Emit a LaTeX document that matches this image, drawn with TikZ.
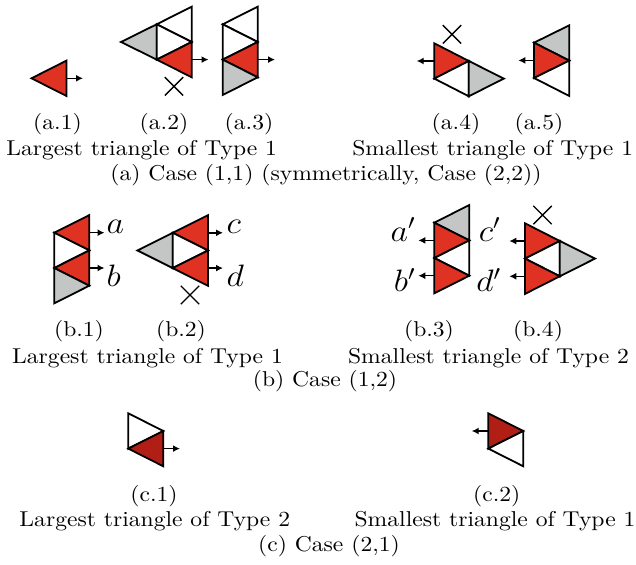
\documentclass[tikz,border=0pt]{standalone}
\usepackage{graphicx}
\usetikzlibrary{arrows.meta,shapes.misc}
\definecolor{tred}{RGB}{224,50,35}
\definecolor{dred}{RGB}{176,30,22}
\definecolor{tgrey}{RGB}{196,198,198}
\newcommand\TX[1]{\scalebox{2.36}[2.15]{#1}}
\newcommand\tri[4]{\filldraw[tri,fill=#1] #2 -- #3 -- #4 -- cycle;}
\begin{document}
\begin{tikzpicture}[x=1pt,y=-1pt,
  tri/.style={draw=black,line width=1.8pt,line join=miter},
  arr/.style={-{Latex[length=7pt,width=7pt]},line width=1.4pt},
  xmark/.style={draw=black,cross out,line width=1.4pt,minimum size=17pt,inner sep=0pt},
  lbl/.style={font=\fontsize{10}{12}\selectfont,inner sep=0pt,anchor=base},
  mlbl/.style={font=\fontsize{10}{12}\selectfont,inner sep=0pt}]
\useasboundingbox (0,0) rectangle (636,564);
% ---------- (a.1)
\tri{tred}{(31.5,78.3)}{(66.5,60.6)}{(66.5,96)}
\coordinate (a1s) at (66.5,78.3); \coordinate (a1e) at (83,78.3);
\draw[arr] (a1s) -- (a1e);
% ---------- (a.2)
\tri{tgrey}{(121,42)}{(156.7,24.3)}{(156.7,59.6)}
\tri{white}{(156.7,24.3)}{(191.7,6.7)}{(191.7,42)}
\tri{white}{(156.7,24.3)}{(191.7,42)}{(156.7,59.6)}
\tri{tred}{(156.7,59.6)}{(191.7,42)}{(191.7,77.3)}
\coordinate (a2s) at (191.7,59.6); \coordinate (a2e) at (208.5,59.6);
\draw[arr] (a2s) -- (a2e);
\node[xmark] (x2) at (174,86.3) {};
% ---------- (a.3)
\tri{white}{(222.7,24.3)}{(257.7,6.7)}{(257.7,42)}
\tri{white}{(222.7,24.3)}{(257.7,42)}{(222.7,59.6)}
\tri{tred}{(222.7,59.6)}{(257.7,42)}{(257.7,77.3)}
\tri{tgrey}{(222.7,59.6)}{(257.7,77.3)}{(222.7,95)}
\coordinate (a3s) at (257.7,59.6); \coordinate (a3e) at (275,59.6);
\draw[arr] (a3s) -- (a3e);
% ---------- (a.4)
\tri{tred}{(434.3,43.3)}{(468.8,61)}{(434.3,78.6)}
\tri{white}{(434.3,78.6)}{(468.8,61)}{(468.8,96.3)}
\tri{tgrey}{(468.8,61)}{(503.8,78.6)}{(468.8,96.3)}
\coordinate (a4s) at (434.3,61); \coordinate (a4e) at (416.7,61);
\draw[arr] (a4s) -- (a4e);
\node[xmark] (x4) at (452,34.3) {};
% ---------- (a.5)
\tri{tgrey}{(534,42.7)}{(569.3,25.3)}{(569.3,60.6)}
\tri{tred}{(534,42.7)}{(569.3,60.6)}{(534,78)}
\tri{white}{(534,78)}{(569.3,60.6)}{(569.3,96)}
\coordinate (a5s) at (534,60.4); \coordinate (a5e) at (518.3,60.4);
\draw[arr] (a5s) -- (a5e);
% ---------- (b.1)
\tri{tred}{(54.3,232.7)}{(89.3,215.1)}{(89.3,250.4)}
\tri{white}{(54.3,232.7)}{(89.3,250.4)}{(54.3,268)}
\tri{tred}{(54.3,268)}{(89.3,250.4)}{(89.3,285.7)}
\tri{tgrey}{(54.3,268)}{(89.3,285.7)}{(54.3,303.3)}
\coordinate (b1s) at (89.3,232.7); \coordinate (b1e) at (104.5,232.7);
\coordinate (b1t) at (89.3,268); \coordinate (b1u) at (104.5,268);
\draw[arr] (b1s) -- (b1e);
\draw[arr] (b1t) -- (b1u);
\node[mlbl,anchor=base west] (ma) at (106.5,233.3) {\TX{\Large$a$}};
\node[mlbl,anchor=base west] (mb) at (106.5,286) {\TX{\Large$b$}};
% ---------- (b.2)
\tri{tgrey}{(137.5,250.5)}{(172.7,232.8)}{(172.7,268.1)}
\tri{tred}{(172.7,232.8)}{(208,215.2)}{(208,250.5)}
\tri{white}{(172.7,232.8)}{(208,250.5)}{(172.7,268.1)}
\tri{tred}{(172.7,268.1)}{(208,250.5)}{(208,285.8)}
\coordinate (b2s) at (208,232.8); \coordinate (b2e) at (223,232.8);
\coordinate (b2t) at (208,268.1); \coordinate (b2u) at (223,268.1);
\draw[arr] (b2s) -- (b2e);
\draw[arr] (b2t) -- (b2u);
\node[mlbl,anchor=base west] (mc) at (226.5,233) {\TX{\Large$c$}};
\node[mlbl,anchor=base west] (md) at (226.5,286) {\TX{\Large$d$}};
\node[xmark] (xb2) at (190,295) {};
% ---------- (b.3)
\tri{tgrey}{(434.3,222.7)}{(469.3,205)}{(469.3,240.4)}
\tri{tred}{(434.3,222.7)}{(469.3,240.4)}{(434.3,258)}
\tri{white}{(434.3,258)}{(469.3,240.4)}{(469.3,275.7)}
\tri{tred}{(434.3,258)}{(469.3,275.7)}{(434.3,293.3)}
\coordinate (b3s) at (434.3,240.4); \coordinate (b3e) at (418.3,240.4);
\coordinate (b3t) at (434.3,275.7); \coordinate (b3u) at (418.3,275.7);
\draw[arr] (b3s) -- (b3e);
\draw[arr] (b3t) -- (b3u);
\node[mlbl,anchor=base east] (map) at (416,241) {\TX{\Large$a'$}};
\node[mlbl,anchor=base east] (mbp) at (416,291.7) {\TX{\Large$b'$}};
% ---------- (b.4)
\tri{tred}{(525,223.3)}{(559.8,241)}{(525,258.6)}
\tri{white}{(525,258.6)}{(559.8,241)}{(559.8,276.3)}
\tri{tred}{(525,258.6)}{(559.8,276.3)}{(525,293.9)}
\tri{tgrey}{(559.8,241)}{(595,258.6)}{(559.8,276.3)}
\coordinate (b4s) at (525,241); \coordinate (b4e) at (509.3,241);
\coordinate (b4t) at (525,276.3); \coordinate (b4u) at (509.3,276.3);
\draw[arr] (b4s) -- (b4e);
\draw[arr] (b4t) -- (b4u);
\node[mlbl,anchor=base east] (mcp) at (501,241) {\TX{\Large$c'$}};
\node[mlbl,anchor=base east] (mdp) at (501.5,291.7) {\TX{\Large$d'$}};
\node[xmark] (xb4) at (542.5,215) {};
% ---------- (c.1)
\tri{white}{(128.3,413.3)}{(163.3,431)}{(128.3,448.6)}
\tri{dred}{(128.3,448.6)}{(163.3,431)}{(163.3,466.3)}
\coordinate (c1s) at (163.3,448.6); \coordinate (c1e) at (180,448.6);
\draw[arr] (c1s) -- (c1e);
% ---------- (c.2)
\tri{dred}{(488.3,413.3)}{(523.3,431)}{(488.3,448.6)}
\tri{white}{(488.3,448.6)}{(523.3,431)}{(523.3,466.3)}
\coordinate (c2s) at (488.3,431); \coordinate (c2e) at (471.7,431);
\draw[arr] (c2s) -- (c2e);
% ---------- labels
\node[lbl] (la1) at (57.5,129.5) {\TX{(a.1)}};
\node[lbl] (la2) at (164,129.5) {\TX{(a.2)}};
\node[lbl] (la3) at (249,129.5) {\TX{(a.3)}};
\node[lbl] (la4) at (456,129.5) {\TX{(a.4)}};
\node[lbl] (la5) at (539,129.5) {\TX{(a.5)}};
\node[lbl] (ta1) at (141.7,155.3) {\TX{Largest triangle of Type 1}};
\node[lbl] (ta2) at (492.7,155.3) {\TX{Smallest triangle of Type 1}};
\node[lbl] (ca) at (326,180.5) {\TX{(a) Case (1,1) (symmetrically, Case (2,2))}};
\node[lbl] (lb1) at (79,336) {\TX{(b.1)}};
\node[lbl] (lb2) at (181,336) {\TX{(b.2)}};
\node[lbl] (lb3) at (429,336) {\TX{(b.3)}};
\node[lbl] (lb4) at (538,336) {\TX{(b.4)}};
\node[lbl] (tb1) at (147.5,363) {\TX{Largest triangle of Type 1}};
\node[lbl] (tb2) at (488.5,363) {\TX{Smallest triangle of Type 2}};
\node[lbl] (cb) at (325,386.5) {\TX{(b) Case (1,2)}};
\node[lbl] (lc1) at (154,501) {\TX{(c.1)}};
\node[lbl] (lc2) at (496.7,501) {\TX{(c.2)}};
\node[lbl] (tc1) at (154.8,526.5) {\TX{Largest triangle of Type 2}};
\node[lbl] (tc2) at (495,526.5) {\TX{Smallest triangle of Type 1}};
\node[lbl] (cc) at (329,551.7) {\TX{(c) Case (2,1)}};
\end{tikzpicture}
\end{document}
